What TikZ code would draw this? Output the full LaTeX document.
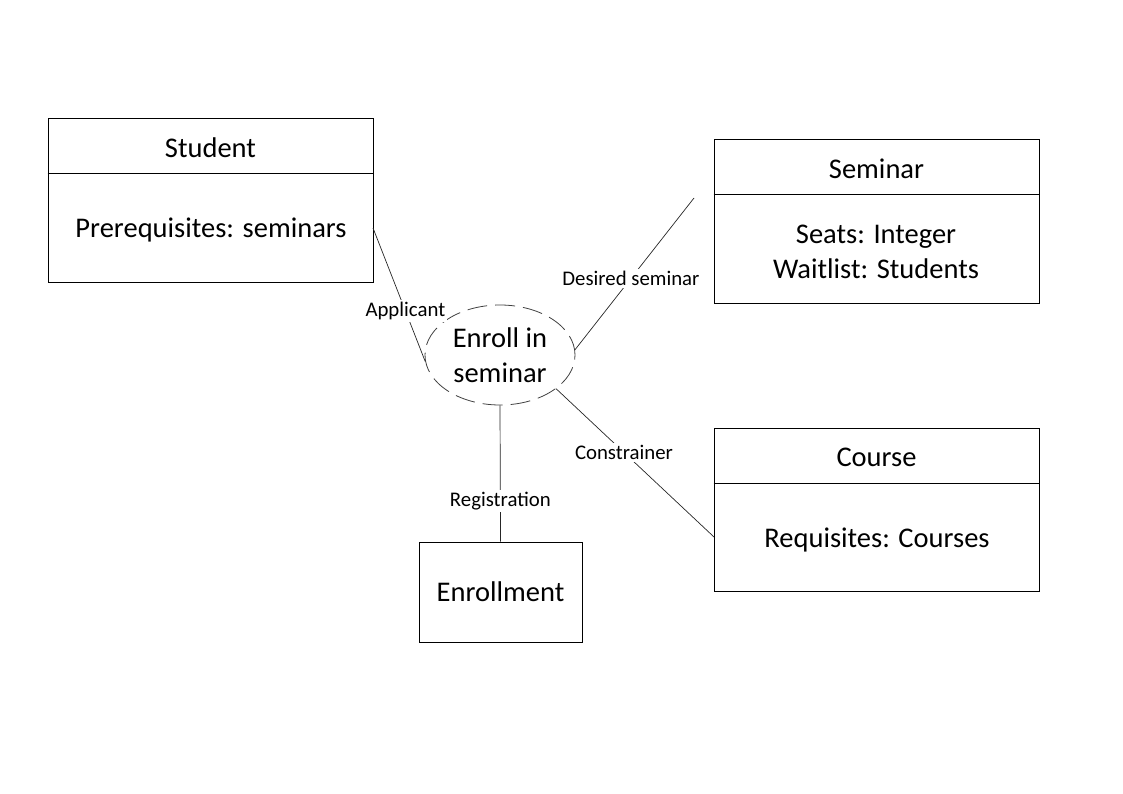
\documentclass[tikz,border=0pt]{standalone}
\usepackage{fontspec}
\setmainfont{Carlito}
\usetikzlibrary{shapes.geometric}
\begin{document}
\begin{tikzpicture}[x=1pt,y=-1pt,line width=0.8pt,
  box/.style={draw,inner sep=0pt,minimum width=325pt,minimum height=164pt},
  big/.style={font=\fontsize{28.5}{35.5}\selectfont,align=center,inner sep=0pt},
  lbl/.style={font=\fontsize{20.8}{22}\selectfont,fill=white,inner sep=2pt},
  link/.style={draw=black!85,line width=0.7pt}]
\useasboundingbox (0,0) rectangle (1123,794);
% Student
\node[box] (student) at (210.5,200) {};
\draw ([yshift=-56pt]student.north west) -- ([yshift=-56pt]student.north east);
\node[big] (studentT) at ([yshift=-30pt]student.north) {Student};
\node[big] (studentB) at (211,230) {Prerequisites: seminars};
% Seminar
\node[box] (seminar) at (876.5,221) {};
\draw ([yshift=-56pt]seminar.north west) -- ([yshift=-56pt]seminar.north east);
\node[big] (seminarT) at ([yshift=-30pt]seminar.north) {Seminar};
\node[big] (seminarB) at (876,252) {Seats: Integer\\Waitlist: Students};
% Course
\node[box,minimum height=163pt] (course) at (876.5,509.5) {};
\draw ([yshift=-56pt]course.north west) -- ([yshift=-56pt]course.north east);
\node[big] (courseT) at ([yshift=-30pt]course.north) {Course};
\node[big] (courseB) at (877,540) {Requisites: Courses};
% Enrollment
\node[draw,inner sep=0pt,minimum width=163pt,minimum height=100pt,big] (enrollment) at (500.5,592) {Enrollment};
% Ellipse
\node[ellipse,draw=black!75,dash pattern=on 20pt off 8pt,minimum width=150pt,minimum height=100pt,inner sep=0pt,big] (enroll) at (500,355) {Enroll in\\seminar};
% connector ends
\coordinate (sA) at (373,228);
\coordinate (sD) at (694,198);
\coordinate (cC) at (714,537);
\path[link] (sA) -- (enroll.185) node[lbl,pos=0.62] (lApp) {Applicant};
\path[link] (enroll.4) -- (sD) node[lbl,pos=0.47] (lDes) {Desired seminar};
\path[link] (enroll.-31) -- (cC) node[lbl,pos=0.43] (lCon) {Constrainer};
\path[link] (enroll.south) -- (enrollment.north) node[lbl,pos=0.7] (lReg) {Registration};
\end{tikzpicture}
\end{document}
